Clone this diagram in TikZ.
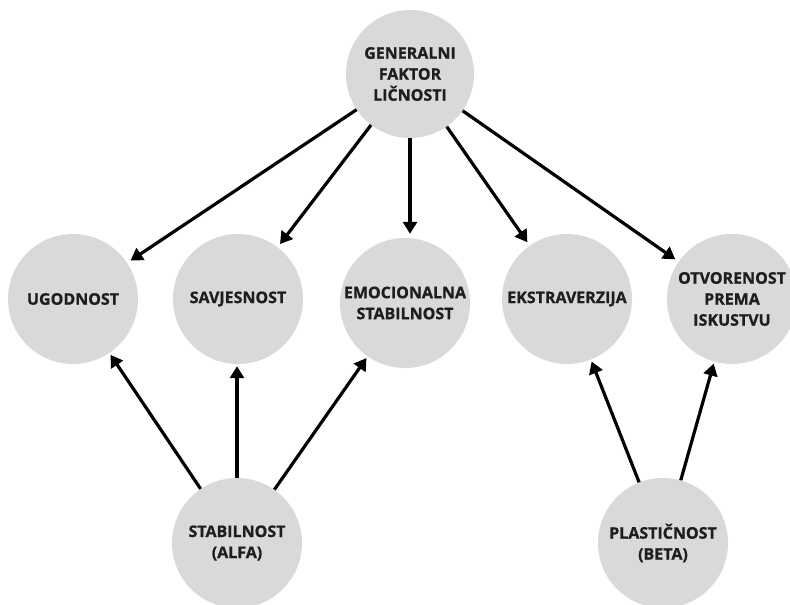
\documentclass[tikz,border=0pt]{standalone}
\usepackage{fontspec}
\setmainfont{Open Sans}[BoldFeatures={FakeBold=0.8}]
\usetikzlibrary{arrows.meta}
\definecolor{circfill}{HTML}{D9D9D9}
\definecolor{txtcol}{HTML}{1E1E1E}
\tikzset{
  trait/.style={circle, fill=circfill, draw=none, minimum size=130pt, inner sep=0pt,
    align=center, text=txtcol, font=\bfseries\fontsize{16}{21}\selectfont},
  conn/.style={line width=3.2pt, draw=black, -{Triangle[length=12pt,width=14pt]}, shorten >=4pt}
}
\begin{document}
\begin{tikzpicture}[x=1pt,y=-1pt]
\useasboundingbox (0,0) rectangle (790,605);
\clip (0,0) rectangle (790,605);
\node[trait, minimum size=128pt] (g) at (410,74) {GENERALNI\\FAKTOR\\LIČNOSTI};
\node[trait] (ug) at (73,299) {UGODNOST};
\node[trait] (sa) at (238,299) {SAVJESNOST};
\node[trait] (em) at (405,303) {EMOCIONALNA\\STABILNOST};
\node[trait] (ek) at (567,299) {EKSTRAVERZIJA};
\node[trait] (ot) at (732,299) {OTVORENOST\\PREMA\\ISKUSTVU};
\node[trait] (st) at (237,543) {STABILNOST\\(ALFA)};
\node[trait] (pl) at (663,543) {PLASTIČNOST\\(BETA)};
\draw[conn] (g) -- (ug);
\draw[conn] (g) -- (sa);
\draw[conn] (g.south) -- (g.south |- em.north);
\draw[conn] (g) -- (ek);
\draw[conn] (g) -- (ot);
\draw[conn, shorten >=2pt] (st) -- (ug);
\draw[conn, shorten >=2pt] (st.north) -- (st.north |- sa.south);
\draw[conn, shorten >=2pt] (st) -- (em);
\draw[conn, shorten >=2pt] (pl) -- (ek);
\draw[conn, shorten >=2pt] (pl) -- (ot);
\end{tikzpicture}
\end{document}
